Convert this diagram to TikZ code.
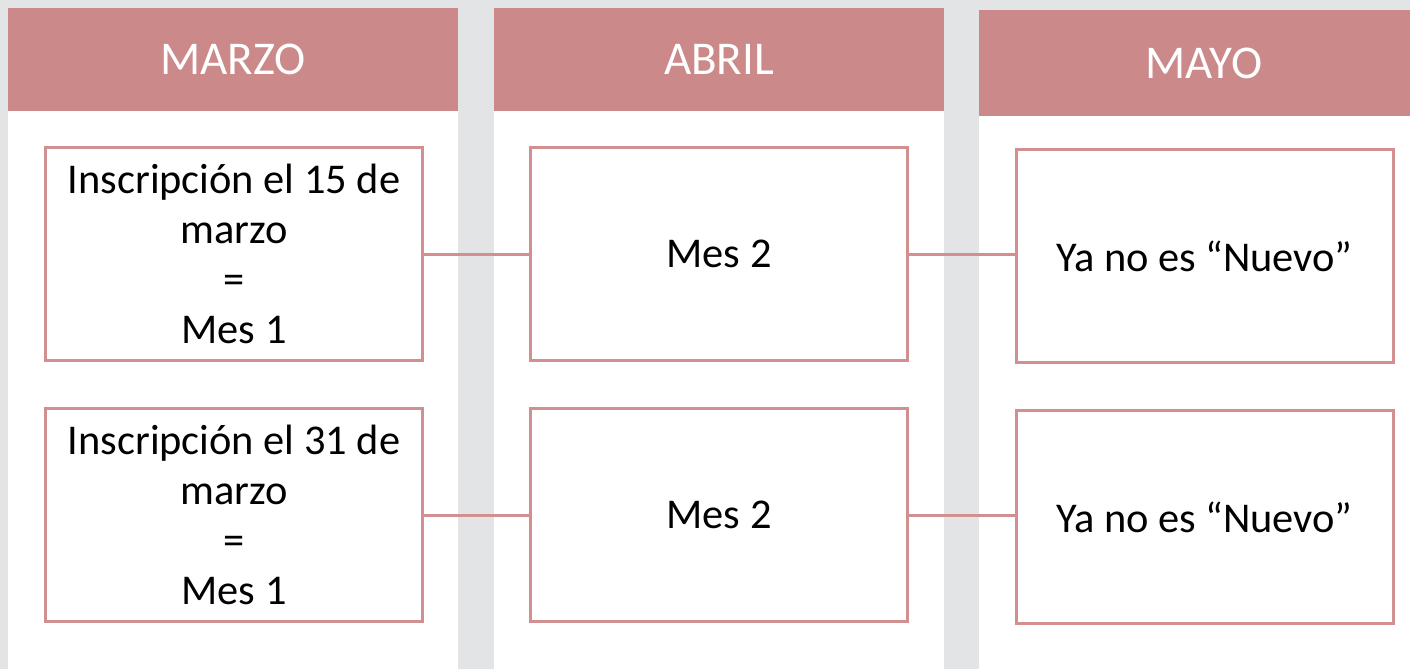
\documentclass[tikz,border=0pt]{standalone}
\usepackage{fontspec}
\setmainfont{Carlito}
\usetikzlibrary{
	positioning,
	calc
}
\definecolor{fondo}{HTML}{E3E4E6}
\definecolor{rosa}{HTML}{CB8989}
\definecolor{borde}{HTML}{D18F8F}
\tikzset{
	mes/.style={fill=rosa, text=white, minimum width=225pt, minimum height=51.5pt, inner sep=0pt, font=\fontsize{23.5}{27}\selectfont},
	caja/.style={draw=borde, line width=1.5pt, fill=white, minimum width=188.5pt, minimum height=106.5pt, inner sep=0pt, align=center, font=\fontsize{21.2}{25}\selectfont},
	enlace/.style={draw=borde, line width=1.5pt}
}

\begin{document}
\begin{tikzpicture}
[x=0.5pt, y=-0.5pt, thick]
\useasboundingbox (0,0) rectangle (1410,669);
\fill[fondo] (0,0) rectangle (1410,669);
% columnas
\fill[white] (8,111) rectangle (458,680);
\fill[white] (494,111) rectangle (944,680);
\fill[white] (979,116) rectangle (1440,680);
% cabeceras
\node[mes] (marzo) at (233,59.5) {MARZO};
\node[mes] (abril) at (719,59.5) {ABRIL};
\node[mes, minimum height=53pt] (mayo) at (1204,63) {MAYO};
% cajas
\node[caja] (m15) at (234,254) {Inscripción el 15 de\\marzo\\=\\Mes 1};
\node[caja] (a15) at (719,254) {Mes 2};
\node[caja] (y15) at (1204.5,256) {Ya no es “Nuevo”};
\node[caja] (m31) at (234,515) {Inscripción el 31 de\\marzo\\=\\Mes 1};
\node[caja] (a31) at (719,515) {Mes 2};
\node[caja] (y31) at (1204.5,517) {Ya no es “Nuevo”};
% enlaces
\draw[enlace] (m15.east) -- (m15.east -| a15.west);
\draw[enlace] (a15.east) -- (a15.east -| y15.west);
\draw[enlace] (m31.east) -- (m31.east -| a31.west);
\draw[enlace] (a31.east) -- (a31.east -| y31.west);
\end{tikzpicture}
\end{document}
